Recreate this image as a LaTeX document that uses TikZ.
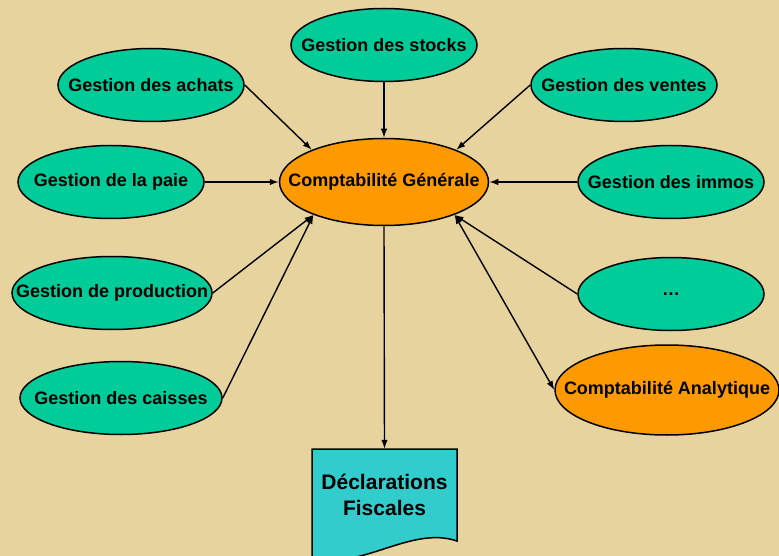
\documentclass[tikz,border=0pt]{standalone}
\usepackage{fontspec}
\setmainfont{Liberation Sans}
\usepackage{tikz}
\usetikzlibrary{arrows,arrows.meta,positioning,shapes,calc,backgrounds}
\usepackage{xcolor}
\definecolor{papyrus}{RGB}{230,211,158}
\definecolor{modgreen}{RGB}{0,204,153}
\definecolor{cgorange}{RGB}{255,153,0}
\definecolor{doccyan}{RGB}{51,204,204}
\newcommand{\nowide}[1]{\makebox[0pt][c]{#1}}

\begin{document}
\begin{tikzpicture}[x=1pt,y=-1pt,>={Latex[length=9pt,width=6.5pt]},
    module/.style={draw,ellipse,line width=1.5pt,fill=modgreen,inner sep=0pt,
      minimum width=186pt,minimum height=73pt,font=\bfseries\fontsize{18}{21}\selectfont},
    compta/.style={module,fill=cgorange},
    link/.style={->,line width=1.4pt}]
    \clip (0,0) rectangle (779,556);
    \fill[papyrus] (0,0) rectangle (779,556);
    \node[compta,minimum width=209pt,minimum height=87pt] (cg) at (384,182) {\nowide{Comptabilité Générale}};
    \node[module] (stocks) at (384,45) {\nowide{Gestion des stocks}};
    \node[module] (achats) at (151,85) {\nowide{Gestion des achats}};
    \node[module] (ventes) at (624,85) {\nowide{Gestion des ventes}};
    \node[module] (paie) at (111,182) {\nowide{Gestion de la paie}};
    \node[module] (immos) at (671,182) {\nowide{Gestion des immos}};
    \node[module,minimum width=200pt] (production) at (112,293) {\nowide{Gestion de production}};
    \node[module] (dots) at (671,294) {\nowide{\dots}};
    \node[module,minimum width=202pt] (caisses) at (121,398) {\nowide{Gestion des caisses}};
    \node[compta,minimum width=224pt,minimum height=90pt] (analytique) at (667,390) {\nowide{Comptabilité Analytique}};
    \filldraw[fill=doccyan,line width=1.5pt] (312,449) -- (457,449) -- (457,541)
      .. controls (410,525) and (360,572) .. (312,557) -- cycle;
    \node[align=center,minimum width=145pt,minimum height=92pt,
      font=\bfseries\fontsize{21}{26}\selectfont] (decl) at (384.5,495) {Déclarations\\Fiscales};
    \draw[link] (achats.east) -- (cg.156);
    \draw[link] (stocks.south) -- (cg.north);
    \draw[link] (ventes.west) -- (cg.24);
    \draw[link] (paie.east) -- (cg.west);
    \draw[link] (immos.west) -- (cg.east);
    \draw[link] (production.east) -- (cg.205);
    \draw[link] (caisses.east) -- (cg.205);
    \draw[link] (dots.west) -- (cg.335);
    \draw[link,<->] (cg.335) -- (analytique.west);
    \draw[link] (cg.south) -- (decl.north);
  \end{tikzpicture}
\end{document}
